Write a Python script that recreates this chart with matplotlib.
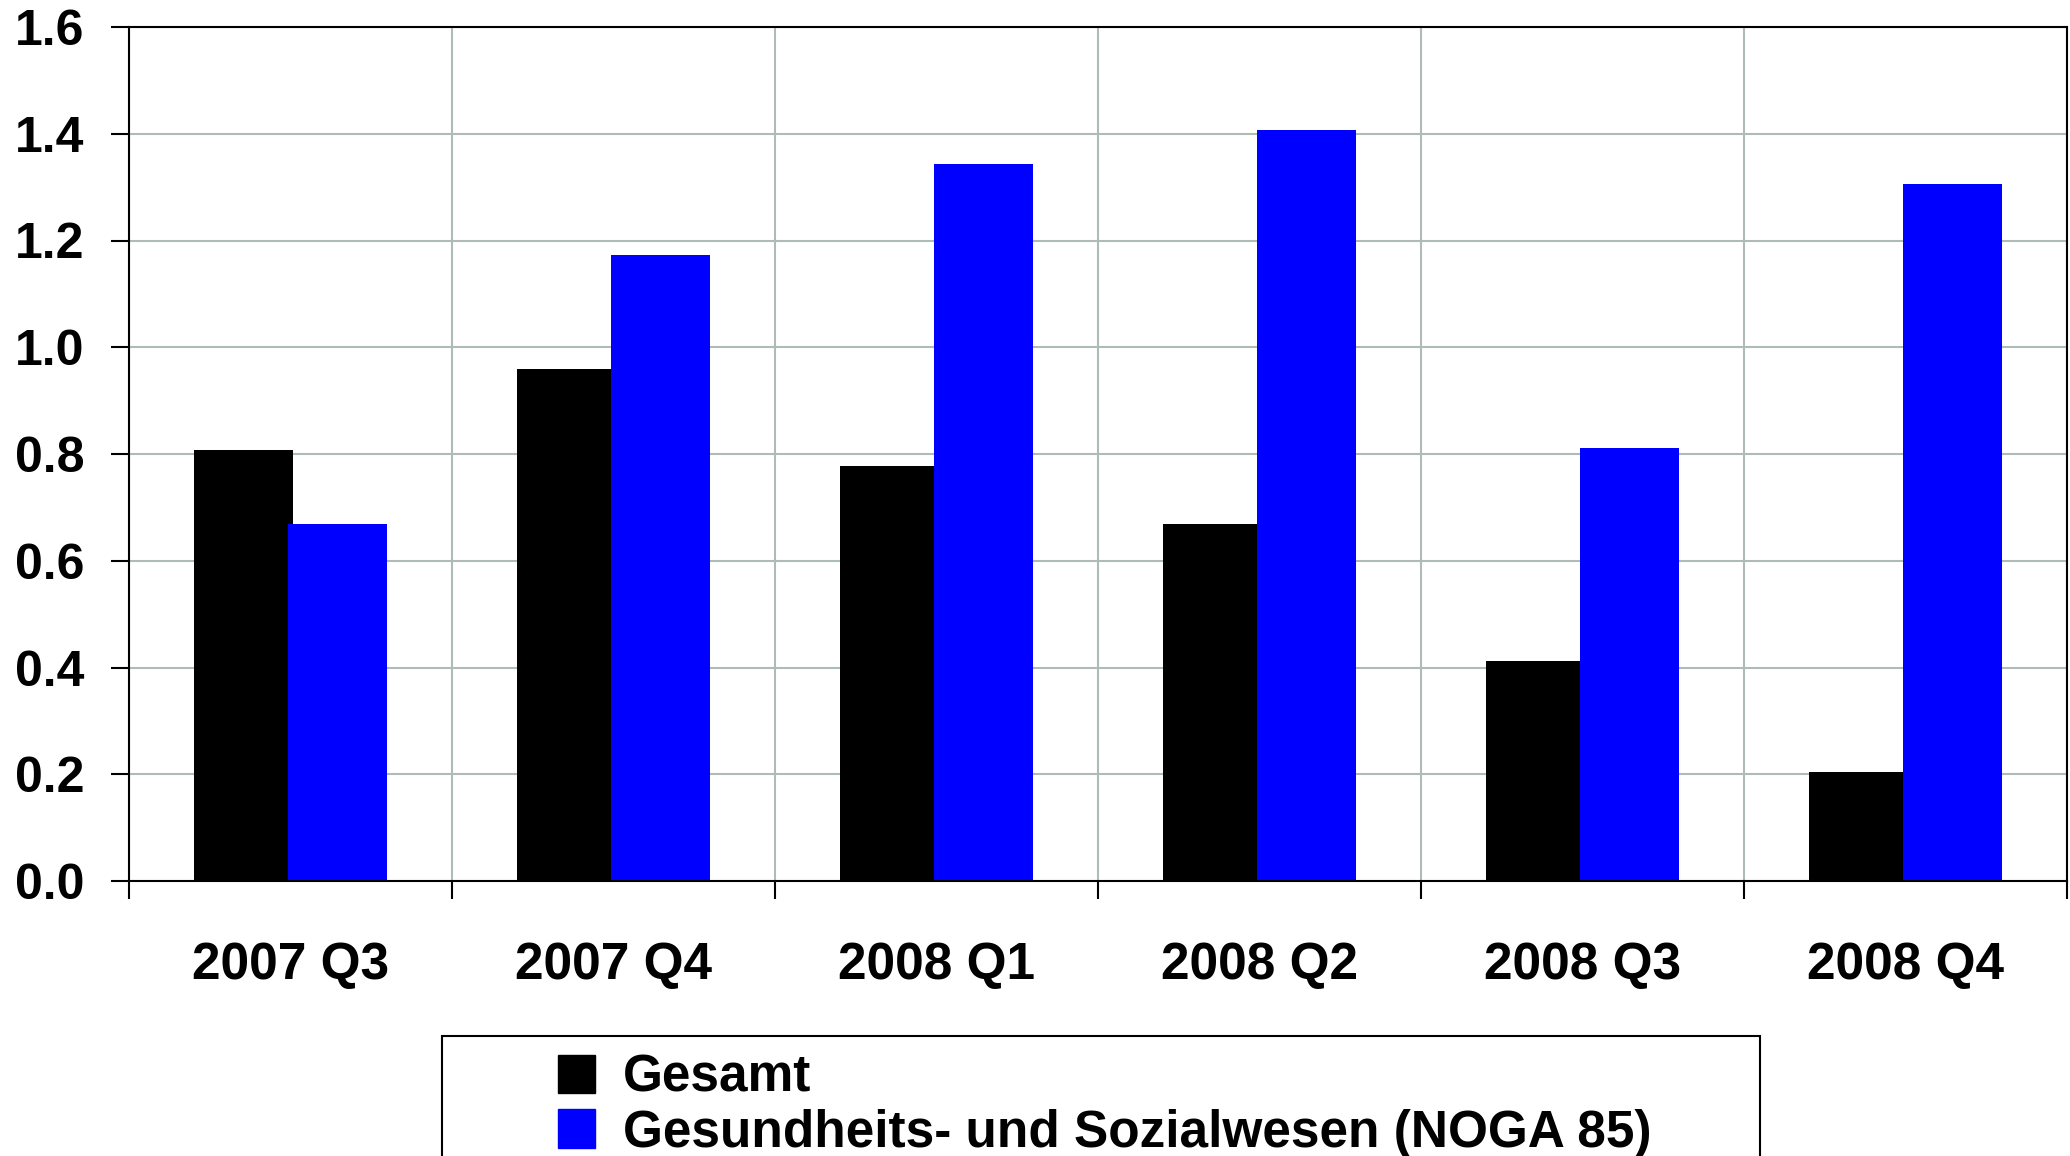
import matplotlib
matplotlib.use("Agg")
import matplotlib.pyplot as plt
import numpy as np
from matplotlib.patches import Rectangle, Patch
from matplotlib.ticker import FixedLocator, FormatStrFormatter

categories = ["2007 Q3", "2007 Q4", "2008 Q1", "2008 Q2", "2008 Q3", "2008 Q4"]
gesamt = [0.807, 0.960, 0.778, 0.669, 0.412, 0.205]
gesundheit = [0.669, 1.173, 1.343, 1.407, 0.812, 1.306]
series_labels = ["Gesamt", "Gesundheits- und Sozialwesen (NOGA 85)"]
yticks = [0.0, 0.2, 0.4, 0.6, 0.8, 1.0, 1.2, 1.4, 1.6]

plt.rcParams['font.family'] = ['Liberation Sans', 'DejaVu Sans']
plt.rcParams['font.weight'] = 'bold'

W, H = 2070, 1156
fig = plt.figure(figsize=(W / 100, H / 100), dpi=100)
ax = fig.add_axes([129 / W, 1 - 881 / H, (2067 - 129) / W, (881 - 27) / H])

x = np.arange(len(categories))
bw = 0.305
ax.bar(x - 0.146, gesamt, width=bw, color='black', zorder=3)
ax.bar(x + 0.146, gesundheit, width=bw, color='#0000ff', zorder=3)

ax.set_xlim(-0.5, len(categories) - 0.5)
ax.set_ylim(0, 1.6)

# category boundaries: major ticks + vertical grid
ax.xaxis.set_major_locator(FixedLocator(np.arange(-0.5, len(categories), 1.0)))
ax.xaxis.set_minor_locator(FixedLocator(x))
ax.set_xticklabels([], minor=False)
ax.set_xticklabels(categories, minor=True)
ax.tick_params(axis='x', which='major', direction='out', length=13, width=1.5, color='black')
ax.tick_params(axis='x', which='minor', length=0, pad=43, labelsize=37)

ax.set_yticks(yticks)
ax.yaxis.set_major_formatter(FormatStrFormatter('%.1f'))
ax.tick_params(axis='y', direction='out', length=13, width=1.5, pad=19, labelsize=36)

for lbl in ax.get_xticklabels(minor=True) + ax.get_yticklabels():
    lbl.set_fontweight('bold')

ax.grid(True, which='major', color='#adbdb5', linewidth=1.5, zorder=0)
ax.set_axisbelow(True)
for sp in ax.spines.values():
    sp.set_color('black')
    sp.set_linewidth(1.5)
    sp.set_zorder(4)

# legend frame (extends past the bottom of the figure)
frame = Rectangle((442 / W, -0.05), (1760 - 442) / W, (1 - 1036 / H) + 0.05,
                  transform=fig.transFigure, fill=False, edgecolor='black',
                  linewidth=1.5)
fig.add_artist(frame)

handles = [Patch(facecolor='black', edgecolor='black'),
           Patch(facecolor='#0000ff', edgecolor='#0000ff')]
leg = fig.legend(handles, series_labels, loc='upper left',
                 bbox_to_anchor=(558 / W, 1 - 1054 / H), frameon=False,
                 prop={'size': 37, 'weight': 'bold'},
                 borderpad=0, borderaxespad=0, handlelength=0.72,
                 handleheight=0.78, handletextpad=0.55, labelspacing=0.11)

fig.savefig("out.png", dpi=100)
